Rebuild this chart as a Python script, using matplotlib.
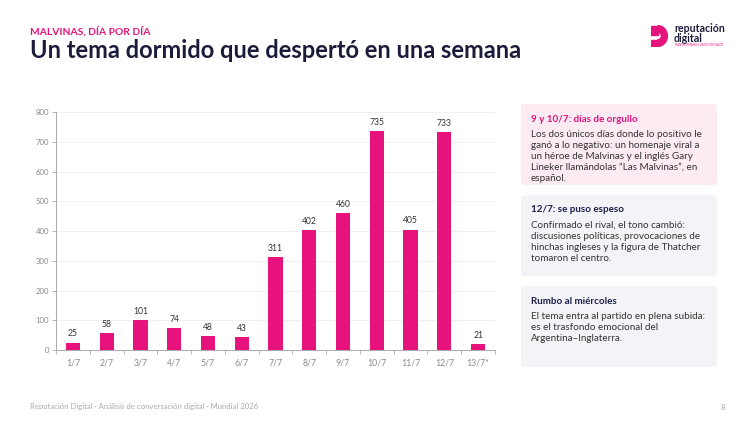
import matplotlib
matplotlib.use("Agg")
import matplotlib.pyplot as plt
from matplotlib.patches import FancyBboxPatch, Rectangle, Wedge

days = ["1/7", "2/7", "3/7", "4/7", "5/7", "6/7", "7/7", "8/7", "9/7", "10/7", "11/7", "12/7", "13/7*"]
mentions = [25, 58, 101, 74, 48, 43, 311, 402, 460, 735, 405, 733, 21]

kicker = "MALVINAS, DÍA POR DÍA"
title = "Un tema dormido que despertó en una semana"
footer = "Reputación Digital · Análisis de conversación digital · Mundial 2026"
page = "8"

cards = [
    ("9 y 10/7: días de orgullo",
     "Los dos únicos días donde lo positivo le\nganó a lo negativo: un homenaje viral a\n"
     "un héroe de Malvinas y el inglés Gary\nLineker llamándolas “Las Malvinas”, en\nespañol.",
     "#fdebf3", "#e0157a"),
    ("12/7: se puso espeso",
     "Confirmado el rival, el tono cambió:\ndiscusiones políticas, provocaciones de\n"
     "hinchas ingleses y la figura de Thatcher\ntomaron el centro.",
     "#f4f4f8", "#1c1f4a"),
    ("Rumbo al miércoles",
     "El tema entra al partido en plena subida:\nes el trasfondo emocional del\nArgentina–Inglaterra.",
     "#f4f4f8", "#1c1f4a"),
]

PINK = "#e5137b"
NAVY = "#1b1c3a"
GRAY = "#8a8a8a"
plt.rcParams["font.family"] = ["Lato", "DejaVu Sans"]

W, H = 750, 422
fig = plt.figure(figsize=(7.5, 4.22), dpi=100)
fig.patch.set_facecolor("white")


def fx(px):
    return px / W


def fy(py):
    return 1 - py / H


# header
fig.text(fx(30), fy(31), kicker, color=PINK, fontsize=7.4, fontweight="bold",
         va="center", ha="left")
fig.text(fx(30), fy(50), title, color=NAVY, fontsize=17, fontweight="bold", va="center", ha="left")

# logo
logo = fig.add_axes([fx(651), fy(47), fx(20), fy(25) - fy(47)])
logo.set_xlim(0, 1)
logo.set_ylim(0, 1)
logo.axis("off")
logo.add_patch(Rectangle((0.0, 0.55), 0.35, 0.42, color=PINK))
logo.add_patch(Wedge((0.35, 0.5), 0.47, -90, 90, width=0.3, color=PINK))
logo.add_patch(Rectangle((0.0, 0.03), 0.35, 0.3, color=PINK))
fig.text(fx(674), fy(28.5), "reputación", color=NAVY, fontsize=7.6, fontweight="bold", va="center")
fig.text(fx(674), fy(38.5), "digital", color=NAVY, fontsize=7.6, fontweight="bold", va="center")
fig.text(fx(674), fy(45.5), "TRANSFORMAMOS DATOS EN VALOR", color=PINK, fontsize=2, va="center")

# chart
ax = fig.add_axes([fx(56), fy(350), fx(495 - 56), fy(112) - fy(350)])
x = range(len(days))
ax.bar(x, mentions, width=0.42, color=PINK, zorder=3)
for xi, v in zip(x, mentions):
    ax.text(xi, v + 14, str(v), ha="center", va="bottom", fontsize=6.2, color="#333333")
ax.set_xlim(-0.5, len(days) - 0.5)
ax.set_ylim(0, 800)
ax.set_yticks(range(0, 801, 100))
ax.set_xticks(list(x))
ax.set_xticklabels(days)
ax.set_xticks([i - 0.5 for i in range(len(days) + 1)], minor=True)
ax.tick_params(axis="x", which="major", length=0, labelsize=6.3, labelcolor=GRAY, pad=6)
ax.tick_params(axis="x", which="minor", length=3, color="#aaaaaa", width=0.6)
ax.tick_params(axis="y", length=3, color="#aaaaaa", width=0.6, labelsize=5.6, labelcolor=GRAY, pad=2)
ax.grid(axis="y", color="#ececec", linewidth=0.6, zorder=0)
for sp in ("top", "right"):
    ax.spines[sp].set_visible(False)
for sp in ("left", "bottom"):
    ax.spines[sp].set_color("#aaaaaa")
    ax.spines[sp].set_linewidth(0.7)

# cards
card_tops = [104, 195, 286]
card_h = 81
for (head, body, bg, hc), top in zip(cards, card_tops):
    fig.patches.append(FancyBboxPatch(
        (fx(521), fy(top + card_h)), fx(717 - 521), fy(top) - fy(top + card_h),
        boxstyle="round,pad=0,rounding_size=0.006", transform=fig.transFigure,
        facecolor=bg, edgecolor="none", zorder=0))
    fig.text(fx(531), fy(top + 15), head, color=hc, fontsize=7.1, fontweight="bold", va="center")
    fig.text(fx(531), fy(top + 26), body, color="#333333", fontsize=7.1, va="top", linespacing=1.28)

# footer
fig.text(fx(30), fy(407), footer, color="#aaaaaa", fontsize=5.6, va="center")
fig.text(fx(725), fy(407), page, color="#aaaaaa", fontsize=5.6, va="center", ha="right")

fig.savefig("out.png", dpi=100, facecolor="white")
